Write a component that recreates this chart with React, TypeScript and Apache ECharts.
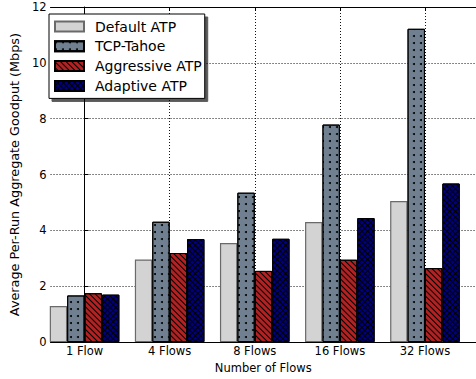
import React, { useEffect, useRef } from "react";
import * as echarts from "echarts";

const categories = ["1 Flow", "4 Flows", "8 Flows", "16 Flows", "32 Flows"];
const defaultAtp = [1.29, 2.96, 3.55, 4.3, 5.05];
const tcpTahoe = [1.67, 4.31, 5.35, 7.79, 11.22];
const aggressiveAtp = [1.75, 3.19, 2.55, 2.95, 2.65];
const adaptiveAtp = [1.7, 3.69, 3.7, 4.44, 5.68];
const yTicks = [0, 2, 4, 6, 8, 10, 12];

const FONT = "DejaVu Sans";
const idx = categories.map((_, i) => i);
const pairs = (arr: number[]) => arr.map((v, i) => [i, v]);

export default function App() {
  const ref = useRef<HTMLDivElement>(null);
  useEffect(() => {
    if (!ref.current) return;
    const chart = echarts.init(ref.current, undefined, { renderer: "svg" });
    const dotted = { color: "#111", width: 1, type: [1, 2] as any };
    const barCommon = {
      type: "bar" as const,
      barWidth: 17.4,
      barGap: "0%",
      xAxisIndex: 0,
      yAxisIndex: 0,
    };
    chart.setOption({
      animation: false,
      backgroundColor: "#fff",
      textStyle: { fontFamily: FONT },
      grid: { left: 42.5, top: 7, width: 434.5, bottom: 34, containLabel: false },
      legend: {
        orient: "vertical",
        left: 49,
        top: 14,
        padding: [5.5, 3, 5.5, 5],
        itemWidth: 29,
        itemHeight: 10,
        itemGap: 5.8,
        icon: "rect",
        backgroundColor: "#fff",
        borderColor: "#000",
        borderWidth: 1,
        borderRadius: 0,
        shadowColor: "rgba(0,0,0,0.65)",
        shadowBlur: 0,
        shadowOffsetX: 3,
        shadowOffsetY: 3,
        formatter: "{g|}{name}",
        textStyle: {
          fontFamily: FONT,
          fontSize: 14,
          color: "#000",
          rich: { g: { width: 6, fontSize: 14 } },
        },
        data: ["Default ATP", "TCP-Tahoe", "Aggressive ATP", "Adaptive ATP"],
      },
      xAxis: [
        {
          type: "value",
          min: -0.4,
          max: 4.6,
          name: "Number of Flows",
          nameLocation: "middle",
          nameGap: 15,
          nameTextStyle: { fontFamily: FONT, fontSize: 11.5, color: "#000" },
          axisLine: { show: true, lineStyle: { color: "#000", width: 1 } },
          axisTick: { show: true, inside: true, length: 4, customValues: idx, lineStyle: { color: "#000" } },
          axisLabel: {
            show: true,
            customValues: idx,
            margin: 3,
            fontFamily: FONT,
            fontSize: 11.5,
            color: "#000",
            formatter: (v: number) => categories[Math.round(v)] ?? "",
          },
          splitLine: { show: true, lineStyle: dotted },
        },
        {
          type: "value",
          position: "top",
          min: -0.4,
          max: 4.6,
          axisLine: { show: true, onZero: false, lineStyle: { color: "#000", width: 1 } },
          axisTick: { show: true, inside: true, length: 4, customValues: idx, lineStyle: { color: "#000" } },
          axisLabel: { show: false },
          splitLine: { show: false },
        },
      ],
      yAxis: {
        type: "value",
        min: 0,
        max: 12,
        interval: 2,
        name: "Average Per-Run Aggregate Goodput (Mbps)",
        nameLocation: "middle",
        nameGap: 21,
        nameTextStyle: { fontFamily: FONT, fontSize: 12.8, color: "#000" },
        axisLine: { show: true, lineStyle: { color: "#000", width: 1 } },
        axisTick: { show: true, inside: true, length: 4, lineStyle: { color: "#000" } },
        axisLabel: {
          margin: 4,
          fontFamily: FONT,
          fontSize: 11.5,
          color: "#000",
          customValues: yTicks,
        },
        splitLine: { show: true, lineStyle: dotted },
      },
      series: [
        {
          ...barCommon,
          name: "Default ATP",
          data: pairs(defaultAtp),
          itemStyle: { color: "#d3d3d3", borderColor: "#6a6a6a", borderWidth: 1.2 },
        },
        {
          ...barCommon,
          name: "TCP-Tahoe",
          data: pairs(tcpTahoe),
          itemStyle: {
            color: "#708090",
            borderColor: "#000",
            borderWidth: 1,
            decal: {
              symbol: "circle",
              symbolSize: 1,
              color: "#000",
              dashArrayX: [1.6, 4.1],
              dashArrayY: [1.6, 4.1],
              rotation: 0,
            },
          },
        },
        {
          ...barCommon,
          name: "Aggressive ATP",
          data: pairs(aggressiveAtp),
          itemStyle: {
            color: "#b22222",
            borderColor: "#000",
            borderWidth: 1,
            decal: {
              symbol: "rect",
              symbolSize: 1,
              color: "#000",
              dashArrayX: [1, 0],
              dashArrayY: [1, 2.3],
              rotation: Math.PI / 4,
            },
          },
        },
        {
          ...barCommon,
          name: "Adaptive ATP",
          data: pairs(adaptiveAtp),
          itemStyle: {
            color: "#000",
            borderColor: "#000",
            borderWidth: 1,
            decal: {
              symbol: "rect",
              symbolSize: 1,
              color: "#000080",
              dashArrayX: [2.4, 0.9],
              dashArrayY: [2.4, 0.9],
              rotation: Math.PI / 4,
            },
          },
        },
      ],
    });
    return () => chart.dispose();
  }, []);
  return <div ref={ref} style={{ width: 476, height: 379, position: "absolute", left: 0, top: 0 }} />;
}
